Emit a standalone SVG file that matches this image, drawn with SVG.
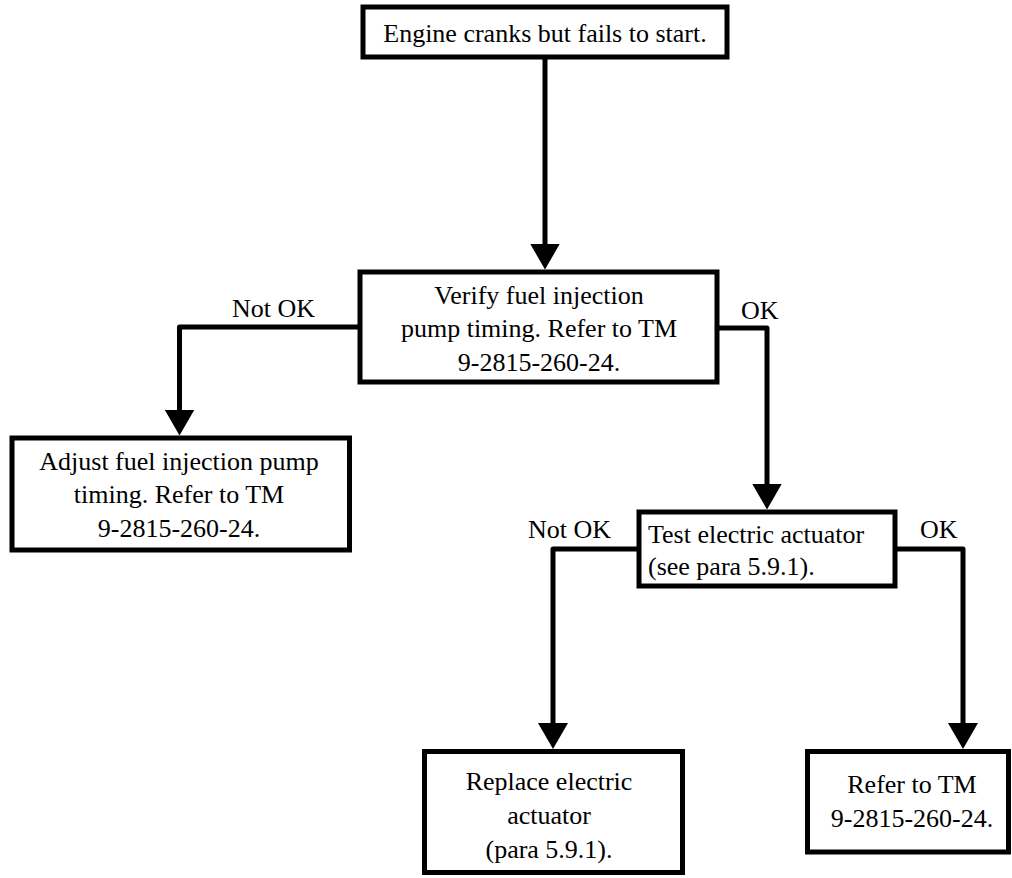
<svg xmlns="http://www.w3.org/2000/svg" width="1012" height="878" viewBox="0 0 1012 878">
<style>
.box{fill:#fff;stroke:#000;stroke-width:5}
.t{font-family:'Liberation Serif','Times New Roman',serif;font-size:26px;fill:#000}
.c{text-anchor:middle}
.ln{fill:none;stroke:#000;stroke-width:5;stroke-linejoin:round}
</style>
<defs>
<marker id="ah" markerUnits="userSpaceOnUse" markerWidth="26" markerHeight="30" viewBox="0 0 26 30" refX="6" refY="15" orient="auto">
<path d="M0,0 L26,15 L0,30 Z" fill="#000"/>
</marker>
</defs>
<rect width="1012" height="878" fill="#fff"/>
<g id="connectors">
<path class="ln" d="M545,57 V249.5" marker-end="url(#ah)"/>
<path class="ln" d="M360,327 H179.5 V415.5" marker-end="url(#ah)"/>
<path class="ln" d="M717,328 H767 V489.5" marker-end="url(#ah)"/>
<path class="ln" d="M639,549 H553 V729" marker-end="url(#ah)"/>
<path class="ln" d="M895,549 H963 V729" marker-end="url(#ah)"/>
<text class="t" x="232" y="317">Not OK</text>
<text class="t" x="741" y="319">OK</text>
<text class="t" x="528" y="538">Not OK</text>
<text class="t" x="920" y="538">OK</text>
</g>
<g id="start">
<rect class="box" x="363" y="7" width="364" height="50"/>
<text class="t c" x="545" y="42">Engine cranks but fails to start.</text>
</g>
<g id="verify">
<rect class="box" x="360" y="272" width="357" height="110"/>
<text class="t c" x="539" y="304">Verify fuel injection</text>
<text class="t c" x="539" y="337">pump timing. Refer to TM</text>
<text class="t c" x="539" y="371">9-2815-260-24.</text>
</g>
<g id="adjust">
<rect class="box" x="12" y="438" width="337.5" height="112"/>
<text class="t c" x="179" y="470">Adjust fuel injection pump</text>
<text class="t c" x="179" y="503">timing. Refer to TM</text>
<text class="t c" x="179" y="537">9-2815-260-24.</text>
</g>
<g id="test">
<rect class="box" x="639" y="512" width="256" height="74"/>
<text class="t" x="648" y="543">Test electric actuator</text>
<text class="t" x="648" y="575">(see para 5.9.1).</text>
</g>
<g id="replace">
<rect class="box" x="424.5" y="751.5" width="258" height="121"/>
<text class="t c" x="549" y="790">Replace electric</text>
<text class="t c" x="549" y="824">actuator</text>
<text class="t c" x="549" y="858">(para 5.9.1).</text>
</g>
<g id="refer">
<rect class="box" x="807.5" y="751.5" width="201" height="100.5"/>
<text class="t c" x="912" y="793">Refer to TM</text>
<text class="t c" x="912" y="827">9-2815-260-24.</text>
</g>
</svg>
